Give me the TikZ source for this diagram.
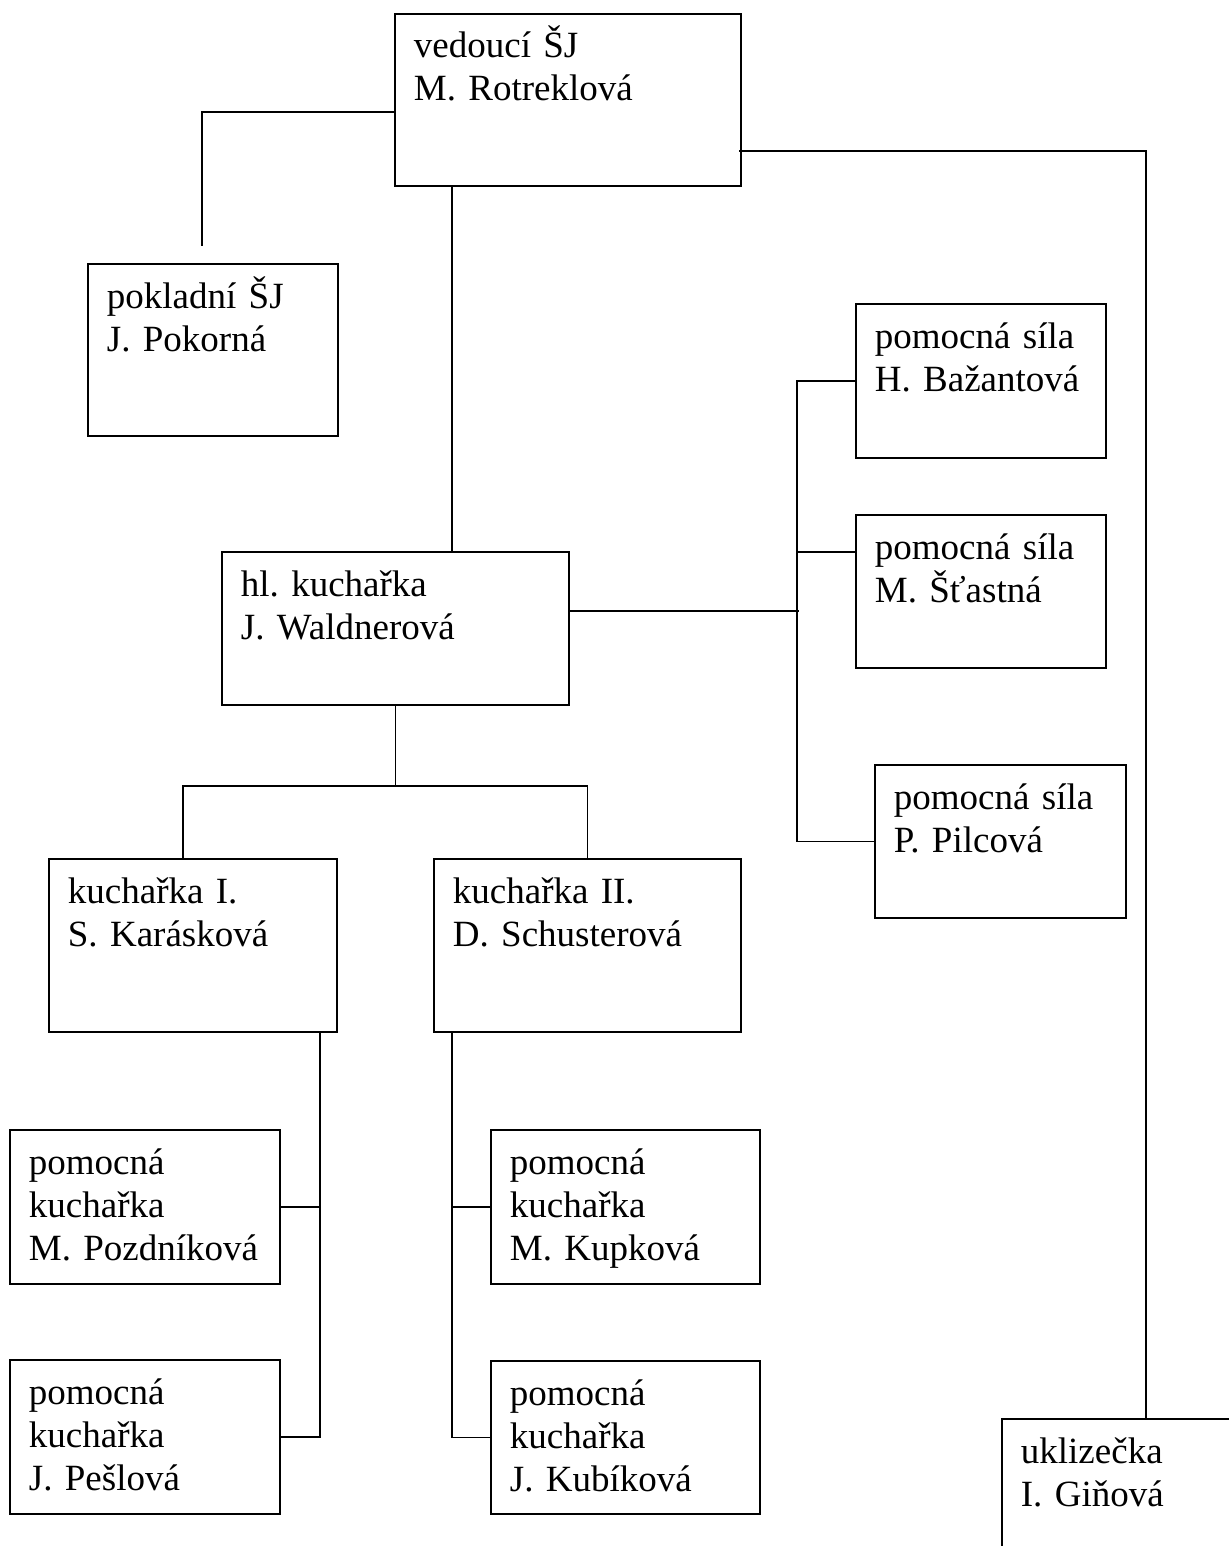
\documentclass[tikz,border=0pt]{standalone}
\usepackage{fontspec}
\setmainfont{Liberation Serif}
\frenchspacing
\begin{document}
\begin{tikzpicture}[x={(0.5pt,0)},y={(0,-0.5pt)},line width=0.9pt,
font=\fontsize{18.5}{21.5}\selectfont,
unitbox/.style={draw,line width=1pt,anchor=north west,inner sep=0pt},
unittext/.style={anchor=base west,inner sep=0pt,text width=160pt,align=left,
xshift=9.5pt,yshift=-22.5pt}]
\clip (0,0) rectangle (1229,1546);
\foreach \N/\X/\Y/\W/\H/\T in {ved/394/13/346/172/{vedoucí ŠJ\\M. Rotreklová},
pok/87/263/250/172/{pokladní ŠJ\\J. Pokorná},
baz/855/303/250/154/{pomocná síla\\H. Bažantová},
sta/855/514/250/153/{pomocná síla\\M. Šťastná},
pil/874/764/251/153/{pomocná síla\\P. Pilcová},
hlk/221/551/347/153/{hl. kuchařka\\J. Waldnerová},
kI/48/858/288/173/{kuchařka I.\\S. Karásková},
kII/433/858/307/173/{kuchařka II.\\D. Schusterová},
poz/9/1129/270/154/{pomocná\\kuchařka\\M. Pozdníková},
pes/9/1359/270/154/{pomocná\\kuchařka\\J. Pešlová},
kup/490/1129/269/154/{pomocná\\kuchařka\\M. Kupková},
kub/490/1360/269/153/{pomocná\\kuchařka\\J. Kubíková},
ukl/1001/1418/288/200/{uklizečka\\I. Giňová}}
{\node[unitbox,minimum width=\W*0.5pt,minimum height=\H*0.5pt] (\N) at (\X,\Y) {};
\node[unittext] (\N-t) at (\N.north west) {\T};}
\draw (ved.north west) ++(0,99) -- ++(-192,0) -- ++(0,134);
\draw (ved.south west) ++(58,0) coordinate (v1) -- (v1 |- hlk.north);
\draw (ved.north east) ++(-3,138) -| (ukl.north);
\draw (hlk.north east) ++(0,60) -- ++(229,0);
\draw (baz.west) -- ++(-58,0) coordinate (r0) -- (r0 |- pil.west) -- (pil.west);
\draw (sta.north west) ++(0,38) -- ++(-58,0);
\draw (hlk.south) -- ++(0,80) coordinate (k0);
\draw (kI.north west) ++(135,0) |- (k0) -| (kII.north);
\draw (kI.south east) ++(-18,0) coordinate (k1) -- (k1 |- pes.east) -- (pes.east);
\draw (poz.east) -- (poz.east -| k1);
\draw (kII.south west) ++(19,0) coordinate (k2) -- (k2 |- kub.west) -- (kub.west);
\draw (kup.west) -- (kup.west -| k2);
\end{tikzpicture}
\end{document}
